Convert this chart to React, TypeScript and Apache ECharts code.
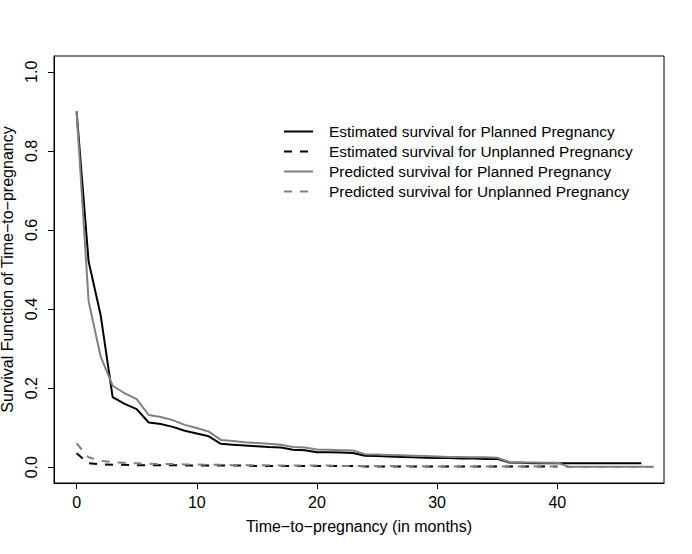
import React, { useEffect, useRef } from "react";
import * as echarts from "echarts";

const monthsPlannedEst = [0,1,2,3,4,5,6,7,8,9,10,11,12,13,14,15,16,17,18,19,20,21,22,23,24,25,26,27,28,29,30,31,32,33,34,35,36,37,38,39,40,41,42,43,44,45,46,47];
const estPlanned = [0.90,0.52,0.385,0.177,0.160,0.147,0.113,0.109,0.102,0.092,0.085,0.078,0.059,0.057,0.055,0.053,0.051,0.050,0.044,0.043,0.038,0.038,0.037,0.036,0.029,0.028,0.027,0.026,0.025,0.024,0.023,0.023,0.022,0.022,0.021,0.021,0.012,0.011,0.010,0.010,0.010,0.010,0.010,0.010,0.010,0.010,0.010,0.010];

const monthsPlannedPred = [0,1,2,3,4,5,6,7,8,9,10,11,12,13,14,15,16,17,18,19,20,21,22,23,24,25,26,27,28,29,30,31,32,33,34,35,36,37,38,39,40,41,42,43,44,45,46,47,48];
const predPlanned = [0.90,0.42,0.28,0.206,0.187,0.172,0.132,0.127,0.119,0.107,0.099,0.090,0.069,0.066,0.063,0.061,0.059,0.057,0.051,0.050,0.045,0.044,0.043,0.042,0.033,0.032,0.031,0.030,0.029,0.028,0.027,0.026,0.026,0.025,0.025,0.024,0.013,0.012,0.012,0.011,0.011,0.001,0.001,0.001,0.001,0.001,0.001,0.001,0.001];

const monthsUnplannedEst = [0,1,2,3,4,5,6,7,8,9,10,11,12,13,14,15,16,17,18,19,20,21,22,23,24,25,26,27,28,29,30,31,32,33,34,35,36,37,38,39,40];
const estUnplanned = [0.035,0.010,0.007,0.006,0.006,0.005,0.005,0.005,0.005,0.004,0.004,0.004,0.004,0.004,0.004,0.003,0.003,0.003,0.003,0.003,0.003,0.003,0.003,0.003,0.002,0.002,0.002,0.002,0.002,0.002,0.002,0.002,0.002,0.002,0.002,0.002,0.0015,0.0015,0.0015,0.0015,0.0015];

const monthsUnplannedPred = [0,1,2,3,4,5,6,7,8,9,10,11,12,13,14,15,16,17,18,19,20,21,22,23,24,25,26,27,28,29,30,31,32,33,34,35,36,37,38,39,40,41,42,43,44,45,46,47,48];
const predUnplanned = [0.060,0.025,0.016,0.013,0.011,0.010,0.009,0.008,0.008,0.007,0.007,0.006,0.006,0.005,0.005,0.005,0.005,0.004,0.004,0.004,0.004,0.004,0.003,0.003,0.003,0.003,0.003,0.003,0.003,0.002,0.002,0.002,0.002,0.002,0.002,0.002,0.002,0.002,0.0015,0.0015,0.0015,0.0005,0.0005,0.0005,0.0005,0.0005,0.0005,0.0005,0.0005];

const xTicks = [0, 10, 20, 30, 40];
const yTicks = [0, 0.2, 0.4, 0.6, 0.8, 1.0];

const seriesNames = [
  "Estimated survival for Planned Pregnancy",
  "Estimated survival for Unplanned Pregnancy",
  "Predicted survival for Planned Pregnancy",
  "Predicted survival for Unplanned Pregnancy",
];

const FONT = "Liberation Sans, Arial, Helvetica, sans-serif";

export default function App() {
  const ref = useRef<HTMLDivElement>(null);
  useEffect(() => {
    if (!ref.current) return;
    const chart = echarts.init(ref.current, undefined, { renderer: "svg" });
    const zip = (xs: number[], ys: number[]) => xs.map((x, i) => [x, ys[i]]);
    const mk = (name: string, data: number[][], color: string, dashed: boolean) => ({
      name,
      type: "line",
      data,
      symbol: "none",
      smooth: false,
      lineStyle: { color, width: 2, type: dashed ? [8, 8] : "solid" },
      itemStyle: { color },
      z: 2,
    });
    chart.setOption({
      animation: false,
      backgroundColor: "#fff",
      textStyle: { fontFamily: FONT },
      grid: {
        left: 54,
        top: 56,
        right: 28,
        bottom: 71,
        show: true,
        borderColor: "#000",
        borderWidth: 1,
        backgroundColor: "transparent",
        containLabel: false,
        outerBoundsMode: "none",
      },
      legend: {
        orient: "vertical",
        left: 283,
        top: 124,
        padding: 0,
        itemWidth: 29,
        itemHeight: 14,
        itemGap: 5,
        selectedMode: false,
        data: seriesNames,
        itemStyle: { opacity: 0, color: "transparent", borderWidth: 0 },
        textStyle: {
          fontFamily: FONT,
          fontSize: 15.4,
          color: "#000",
          padding: [0, 0, 0, 11],
        },
      },
      xAxis: {
        type: "value",
        min: -1.88,
        max: 48.88,
        name: "Time\u2212to\u2212pregnancy (in months)",
        nameLocation: "middle",
        nameGap: 35,
        nameTextStyle: { fontFamily: FONT, fontSize: 16, color: "#000" },
        axisLine: { show: true, onZero: false, lineStyle: { color: "#000", width: 1 } },
        axisTick: { show: true, length: 6, inside: false, customValues: xTicks, lineStyle: { color: "#000", width: 1 } },
        axisLabel: {
          customValues: xTicks,
          fontFamily: FONT,
          fontSize: 16,
          color: "#000",
          margin: 11,
          formatter: (v: number) => String(v),
        },
        splitLine: { show: false },
      },
      yAxis: {
        type: "value",
        min: -0.04,
        max: 1.04,
        name: "Survival Function of Time\u2212to\u2212pregnancy",
        nameLocation: "middle",
        nameGap: 33,
        nameTextStyle: { fontFamily: FONT, fontSize: 16, color: "#000" },
        axisLine: { show: true, onZero: false, lineStyle: { color: "#000", width: 1 } },
        axisTick: { show: true, length: 6, inside: false, customValues: yTicks, lineStyle: { color: "#000", width: 1 } },
        axisLabel: {
          customValues: yTicks,
          rotate: 90,
          fontFamily: FONT,
          fontSize: 16,
          color: "#000",
          margin: 15,
          formatter: (v: number) => v.toFixed(1),
        },
        splitLine: { show: false },
      },
      series: [
        mk(seriesNames[0], zip(monthsPlannedEst, estPlanned), "#000000", false),
        mk(seriesNames[1], zip(monthsUnplannedEst, estUnplanned), "#000000", true),
        mk(seriesNames[2], zip(monthsPlannedPred, predPlanned), "#808080", false),
        mk(seriesNames[3], zip(monthsUnplannedPred, predUnplanned), "#808080", true),
      ],
    });
    return () => chart.dispose();
  }, []);
  return <div ref={ref} style={{ width: 692, height: 554, position: "absolute", left: 0, top: 0 }} />;
}
